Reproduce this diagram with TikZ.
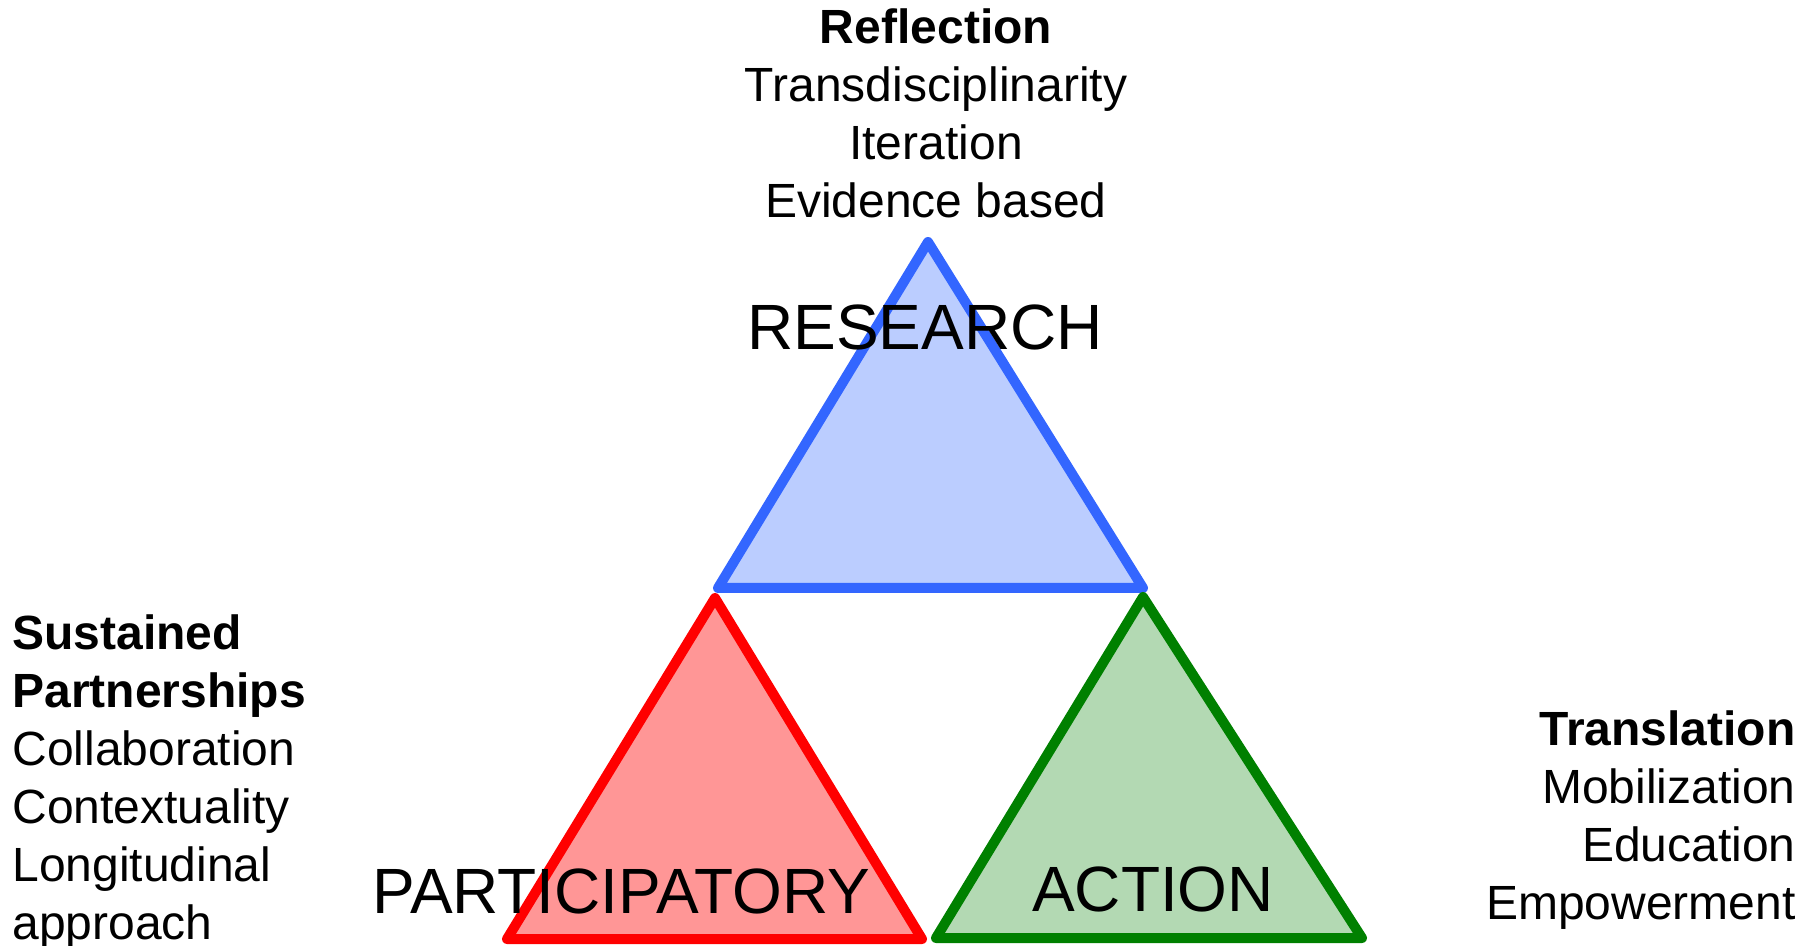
\documentclass[tikz,border=0pt]{standalone}
\usepackage{fontspec}
\setmainfont{Liberation Sans}
\usepackage{tikz}
\definecolor{resline}{RGB}{51,102,255}
\definecolor{resfill}{RGB}{187,205,255}
\definecolor{parline}{RGB}{255,0,0}
\definecolor{parfill}{RGB}{255,150,150}
\definecolor{actline}{RGB}{0,128,0}
\definecolor{actfill}{RGB}{179,217,179}
\tikzset{
  tri/.style = {line width=5pt, line join=round},
  notes/.style = {inner sep=0pt, font=\fontsize{24}{29}\selectfont},% small lists
  big/.style = {inner sep=0pt, anchor=base, font=\fontsize{32}{38}\selectfont}% triangle names
}
\begin{document}
\begin{tikzpicture}[x=0.5pt,y=-0.5pt]
\useasboundingbox (0,0) rectangle (1812,946);
% the three triangles
\draw [tri, draw=resline, fill=resfill] (928,242) -- (718,588) -- (1143,588) -- cycle;
\draw [tri, draw=parline, fill=parfill] (715,598) -- (507,939) -- (922,939) -- cycle;
\draw [tri, draw=actline, fill=actfill] (1143,597) -- (936,938) -- (1362,938) -- cycle;
% names
\node [big] (research) at (925,350) {RESEARCH};
\node [big] (particip) at (621,913) {PARTICIPATORY};
\node [big] (action) at (1153,911) {ACTION};
% lists (anchored on the last line)
\node [notes, anchor=base, align=center] (reflect) at (936,218)
  {\textbf{Reflection}\\Transdisciplinarity\\Iteration\\Evidence based};
\node [notes, anchor=base west, align=left] (partner) at (12,939)
  {\textbf{Sustained}\\\textbf{Partnerships}\\Collaboration\\Contextuality\\Longitudinal\\approach};
\node [notes, anchor=base east, align=right] (transl) at (1796,919)
  {\textbf{Translation}\\Mobilization\\Education\\Empowerment};
\end{tikzpicture}
\end{document}
